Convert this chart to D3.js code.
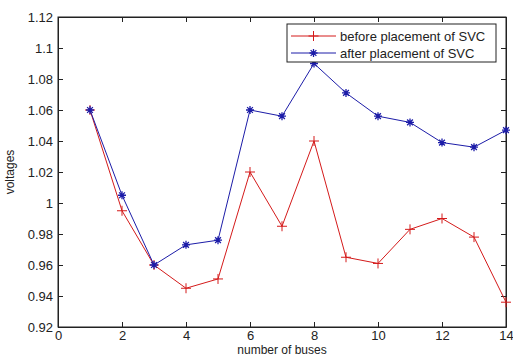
<!DOCTYPE html>
<html>
<head>
<meta charset="utf-8">
<script src="https://cdn.jsdelivr.net/npm/d3@7"></script>
<style>
  body { margin: 0; background: #fff; }
  text { font-family: "Liberation Sans", Arial, sans-serif; }
</style>
</head>
<body>
<div id="chart"></div>
<script>
var buses = [1, 2, 3, 4, 5, 6, 7, 8, 9, 10, 11, 12, 13, 14];
var before = [1.06, 0.995, 0.96, 0.945, 0.951, 1.02, 0.985, 1.04, 0.965, 0.961, 0.983, 0.99, 0.978, 0.936];
var after = [1.06, 1.005, 0.96, 0.973, 0.976, 1.06, 1.056, 1.09, 1.071, 1.056, 1.052, 1.039, 1.036, 1.047];
var xTicks = [0, 2, 4, 6, 8, 10, 12, 14];
var yTicks = [0.92, 0.94, 0.96, 0.98, 1, 1.02, 1.04, 1.06, 1.08, 1.1, 1.12];
var seriesNames = ["before placement of SVC", "after placement of SVC"];

var width = 513, height = 358,
  margin = {top: 17, left: 58, bottom: 31, right: 7};

var x = d3.scaleLinear().domain([0, 14]).range([margin.left, width - margin.right]);
var y = d3.scaleLinear().domain([0.92, 1.12]).range([height - margin.bottom, margin.top]);

var svg = d3.select("#chart").append("svg")
  .attr("width", width).attr("height", height);

var tickLen = 5;
var axisColor = "#222";
var tickFont = "13px";

// x axis bottom + top ticks
var gx = svg.append("g")
  .attr("transform", "translate(0," + y.range()[0] + ")")
  .call(d3.axisBottom(x).tickValues(xTicks).tickSizeInner(-tickLen).tickSizeOuter(0).tickPadding(4)
    .tickFormat(d3.format("d")));
var gxTop = svg.append("g")
  .attr("transform", "translate(0," + y.range()[1] + ")")
  .call(d3.axisTop(x).tickValues(xTicks).tickSizeInner(-tickLen).tickSizeOuter(0).tickFormat(""));

var gy = svg.append("g")
  .attr("transform", "translate(" + x.range()[0] + ",0)")
  .call(d3.axisLeft(y).tickValues(yTicks).tickSizeInner(-tickLen).tickSizeOuter(0).tickPadding(5)
    .tickFormat(function(d) { return d3.format("")(+d.toFixed(2)); }));
var gyRight = svg.append("g")
  .attr("transform", "translate(" + x.range()[1] + ",0)")
  .call(d3.axisRight(y).tickValues(yTicks).tickSizeInner(-tickLen).tickSizeOuter(0).tickFormat(""));

[gx, gxTop, gy, gyRight].forEach(function(g) {
  g.selectAll("path.domain").attr("stroke", axisColor);
  g.selectAll(".tick line").attr("stroke", axisColor);
  g.selectAll(".tick text").attr("fill", axisColor).style("font-size", tickFont)
    .style("font-family", "'Liberation Sans', Arial, sans-serif");
});

// frame
svg.append("rect")
  .attr("x", x.range()[0]).attr("y", y.range()[1])
  .attr("width", x.range()[1] - x.range()[0])
  .attr("height", y.range()[0] - y.range()[1])
  .attr("fill", "none").attr("stroke", axisColor).attr("stroke-width", 1);

var colors = ["#d41a1a", "#1c1ca8"];
var data = [before, after];

var line = d3.line()
  .x(function(d, i) { return x(buses[i]); })
  .y(function(d) { return y(d); });

function plusMarker(g, cx, cy, s, c) {
  g.append("path").attr("d", "M" + (cx - s) + "," + cy + "H" + (cx + s) + "M" + cx + "," + (cy - s) + "V" + (cy + s))
    .attr("stroke", c).attr("stroke-width", 1).attr("fill", "none");
}
function starMarker(g, cx, cy, s, c) {
  var d = s * 0.72;
  g.append("path").attr("d", "M" + (cx - s) + "," + cy + "H" + (cx + s) + "M" + cx + "," + (cy - s) + "V" + (cy + s) +
    "M" + (cx - d) + "," + (cy - d) + "L" + (cx + d) + "," + (cy + d) +
    "M" + (cx - d) + "," + (cy + d) + "L" + (cx + d) + "," + (cy - d))
    .attr("stroke", c).attr("stroke-width", 1.3).attr("fill", "none");
}
var markers = [plusMarker, starMarker];
var markerSize = [5, 4];

data.forEach(function(series, k) {
  var g = svg.append("g");
  g.append("path").datum(series)
    .attr("d", line).attr("fill", "none")
    .attr("stroke", colors[k]).attr("stroke-width", 1);
  series.forEach(function(v, i) {
    markers[k](g, x(buses[i]), y(v), markerSize[k], colors[k]);
  });
});

// axis titles
svg.append("text")
  .attr("transform", "translate(14," + ((y.range()[0] + y.range()[1]) / 2) + ") rotate(-90)")
  .attr("text-anchor", "middle").style("font-size", "12px").attr("fill", axisColor)
  .text("voltages");
svg.append("text")
  .attr("x", (x.range()[0] + x.range()[1]) / 2).attr("y", 354)
  .attr("text-anchor", "middle").style("font-size", "12px").attr("fill", axisColor)
  .text("number of buses");

// legend
var lg = svg.append("g");
lg.append("rect").attr("x", 287).attr("y", 24).attr("width", 209).attr("height", 38)
  .attr("fill", "#fff").attr("stroke", axisColor).attr("stroke-width", 1);
seriesNames.forEach(function(name, k) {
  var ly = 36 + k * 17;
  lg.append("line").attr("x1", 291).attr("x2", 336).attr("y1", ly).attr("y2", ly)
    .attr("stroke", colors[k]).attr("stroke-width", 1);
  markers[k](lg, 313.5, ly, markerSize[k], colors[k]);
  lg.append("text").attr("x", 340).attr("y", ly + 4.5).style("font-size", "13px")
    .attr("fill", axisColor).text(name);
});
</script>
</body>
</html>
